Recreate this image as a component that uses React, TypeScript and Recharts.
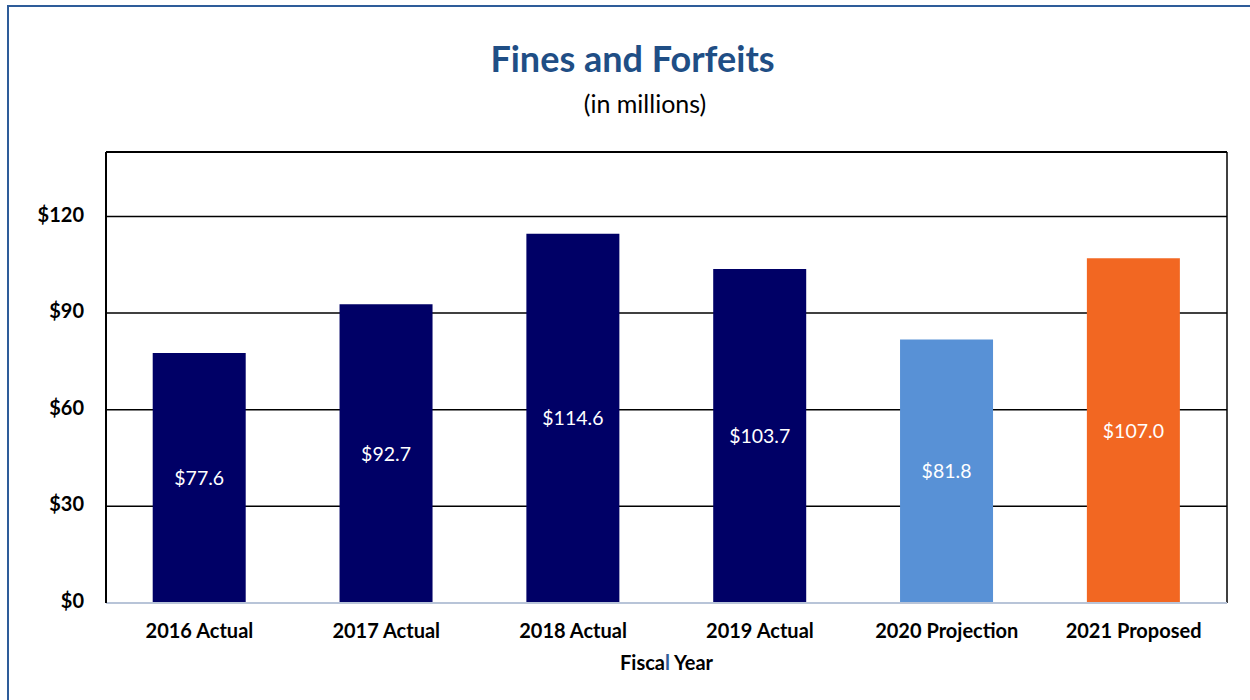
import { BarChart, Bar, XAxis, YAxis, CartesianGrid, ReferenceLine, LabelList, Cell } from 'recharts';

// Fines and Forfeits, in millions
const years = ['2016 Actual', '2017 Actual', '2018 Actual', '2019 Actual', '2020 Projection', '2021 Proposed'];
const amounts = [77.6, 92.7, 114.6, 103.7, 81.8, 107.0];
const barColors = ['#000066', '#000066', '#000066', '#000066', '#5891d6', '#f26722'];
const yTicks = [0, 30, 60, 90, 120];

const FONT = 'Lato, "Open Sans", sans-serif';

const data = years.map((year, i) => ({ year, amount: amounts[i] }));

function XTick(props: any) {
  const { x, y, payload } = props;
  return (
    <text x={x} y={y + 28} textAnchor="middle" dominantBaseline="middle"
      fontFamily={FONT} fontWeight={700} fontSize={20} fill="#000">
      {payload.value}
    </text>
  );
}

function YTick(props: any) {
  const { x, y, payload } = props;
  return (
    <text x={x} y={y} textAnchor="end" dominantBaseline="middle"
      fontFamily={FONT} fontWeight={700} fontSize={20} fill="#000">
      {`$${payload.value}`}
    </text>
  );
}

function AxisTitle(props: any) {
  const vb = props.viewBox || {};
  const cx = vb.x + vb.width / 2;
  return (
    <text x={cx} y={vb.y + 62} textAnchor="middle" dominantBaseline="middle"
      fontFamily={FONT} fontWeight={700} fontSize={20} fill="#000">
      <tspan>Fisca</tspan>
      <tspan fill="#2e5c99">l</tspan>
      <tspan> Year</tspan>
    </text>
  );
}

// right edge of the plot frame
const rightEdge = (p: any) => {
  const o = p.offset;
  return [o.left + o.width];
};

export default function App() {
  return (
    <div style={{ position: 'absolute', left: 0, top: 0, width: 1250, height: 700, overflow: 'hidden', background: '#fff' }}>
      <div style={{ position: 'absolute', left: 7, top: 5, width: 1300, height: 800, border: '2px solid #2e5c99' }} />
      <div style={{ position: 'absolute', left: 0, top: 36, width: 1265, textAlign: 'center', fontFamily: FONT, fontWeight: 700, fontSize: 36, color: '#1f4e85' }}>
        Fines and Forfeits
      </div>
      <div style={{ position: 'absolute', left: 0, top: 88, width: 1290, textAlign: 'center', fontFamily: FONT, fontSize: 25, color: '#000' }}>
        (in millions)
      </div>
      <div style={{ position: 'absolute', left: 0, top: 0 }}>
        <BarChart width={1250} height={700} data={data}
          margin={{ top: 152, right: 23, bottom: 0, left: 8 }} barCategoryGap="25%">
          <CartesianGrid stroke="#000" strokeWidth={1.5} verticalCoordinatesGenerator={rightEdge} />
          <XAxis dataKey="year" height={97} tickLine={false} tickSize={0}
            axisLine={{ stroke: '#b8c4d8', strokeWidth: 2 }} tick={<XTick />}
            interval={0} label={<AxisTitle />} />
          <YAxis width={98} domain={[0, 140]} ticks={yTicks} tickLine={false} tickSize={0} tickMargin={22}
            axisLine={{ stroke: '#000', strokeWidth: 2 }} tick={<YTick />} allowDataOverflow />
          <ReferenceLine y={140} stroke="#000" strokeWidth={2} />
          <Bar dataKey="amount" isAnimationActive={false}>
            {data.map((d, i) => (
              <Cell key={d.year} fill={barColors[i]} />
            ))}
            <LabelList dataKey="amount" position="center" fill="#fff" fontFamily={FONT} fontSize={19.5}
              formatter={(v: any) => `$${Number(v).toFixed(1)}`} />
          </Bar>
        </BarChart>
      </div>
    </div>
  );
}
